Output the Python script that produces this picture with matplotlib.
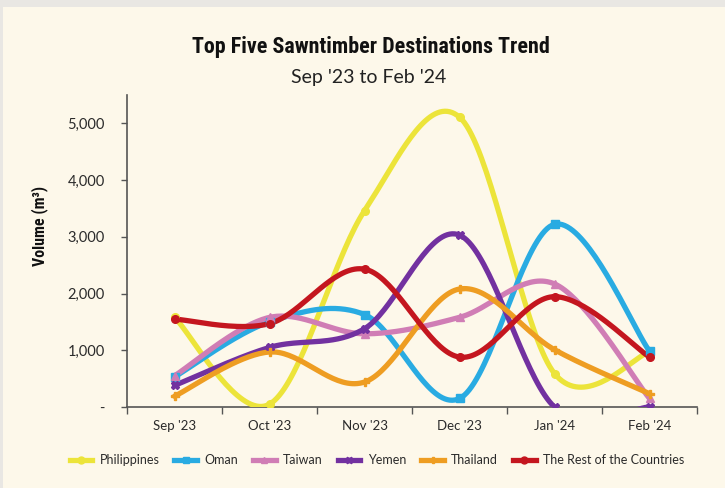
import numpy as np
import matplotlib
matplotlib.use("Agg")
import matplotlib.pyplot as plt
from matplotlib.patches import Rectangle
from matplotlib.lines import Line2D
from matplotlib.ticker import FuncFormatter, FixedLocator

months = ["Sep '23", "Oct '23", "Nov '23", "Dec '23", "Jan '24", "Feb '24"]
philippines = [1580, 50, 3460, 5110, 590, 970]
oman = [530, 1500, 1630, 150, 3220, 985]
taiwan = [550, 1580, 1290, 1580, 2170, 150]
yemen = [380, 1050, 1380, 3030, 0, 0]
thailand = [190, 970, 440, 2080, 1010, 235]
rest = [1550, 1470, 2430, 880, 1945, 880]

series = [
    ("Philippines", philippines, "#ECE43A", "o"),
    ("Oman", oman, "#29ABE2", "s"),
    ("Taiwan", taiwan, "#D07DB5", "^"),
    ("Yemen", yemen, "#7231A0", "X"),
    ("Thailand", thailand, "#EE9D22", "P"),
    ("The Rest of the Countries", rest, "#C4161F", "o"),
]

BG = "#FDF8EA"
TXT = "#2b2b2b"
COND = ["Roboto Condensed", "DejaVu Sans"]
BODY = ["Lato", "DejaVu Sans"]


def smooth(xs, ys, n=40):
    """Excel-style Bezier smoothing through the data points."""
    P = np.column_stack([xs, ys]).astype(float)
    m = len(P)
    out = []
    for i in range(m - 1):
        p0 = P[i]
        p1 = P[i + 1]
        pm = P[i - 1] if i > 0 else P[i]
        pp = P[i + 2] if i + 2 < m else P[i + 1]
        c1 = p0 + (p1 - pm) / 6.0
        c2 = p1 - (pp - p0) / 6.0
        t = np.linspace(0, 1, n)[:, None]
        seg = ((1 - t) ** 3) * p0 + 3 * ((1 - t) ** 2) * t * c1 + 3 * (1 - t) * t ** 2 * c2 + t ** 3 * p1
        out.append(seg if i == 0 else seg[1:])
    out = np.vstack(out)
    return out[:, 0], out[:, 1]


fig = plt.figure(figsize=(7.25, 4.88), dpi=100)
fig.patch.set_facecolor("#E9E7E3")
fig.patches.append(Rectangle((3 / 725, 0), 1, 481 / 488, transform=fig.transFigure,
                             facecolor=BG, edgecolor="none", zorder=-10))

ax = fig.add_axes([127 / 725, 81 / 488, 570 / 725, 312 / 488])
ax.set_facecolor("none")

x = np.arange(len(months))
for name, vals, col, mk in series:
    sx, sy = smooth(x, vals)
    ax.plot(sx, sy, color=col, lw=3.8, solid_capstyle="round", zorder=3)
    ax.plot(x, vals, linestyle="none", marker=mk, color=col, markersize=5.5,
            markeredgecolor=col, zorder=4)

ax.set_xlim(-0.5, len(months) - 0.5)
ax.set_ylim(0, 5500)

ax.set_xticks(x)
ax.set_xticklabels(months)
ax.xaxis.set_minor_locator(FixedLocator(np.arange(-0.5, len(months), 1.0)))
ax.tick_params(axis="x", which="major", length=0, pad=9, labelsize=9.5, labelcolor=TXT)
ax.tick_params(axis="x", which="minor", length=5, width=1, color="#555555", direction="out")

ax.set_yticks(np.arange(0, 5001, 1000))
ax.yaxis.set_major_formatter(FuncFormatter(lambda v, p: "-" if v == 0 else f"{int(v):,}"))
ax.tick_params(axis="y", length=4, width=1, color="#555555", direction="out", pad=12,
               labelsize=10.5, labelcolor=TXT)

for lab in ax.get_xticklabels() + ax.get_yticklabels():
    lab.set_family(BODY)

for s in ["top", "right"]:
    ax.spines[s].set_visible(False)
for s in ["left", "bottom"]:
    ax.spines[s].set_color("#555555")
    ax.spines[s].set_linewidth(1.2)

ax.set_ylabel("Volume (m³)", fontsize=11.5, fontweight="bold", color="#111111", family=COND)
ax.yaxis.set_label_coords(-0.138, 0.58)

fig.text(371 / 725, 1 - 47 / 488, "Top Five Sawntimber Destinations Trend", ha="center", va="center",
         fontsize=15.8, fontweight="bold", color="#111111", family=COND)
fig.text(369 / 725, 1 - 77 / 488, "Sep '23 to Feb '24", ha="center", va="center",
         fontsize=14, color="#222222", family=BODY)

handles = [Line2D([0], [0], color=col, lw=3.8, marker=mk, markersize=5) for _, _, col, mk in series]
labels = [s[0] for s in series]
leg = fig.legend(handles, labels, loc="center", bbox_to_anchor=(377 / 725, 1 - 460 / 488),
                 ncol=6, frameon=False, handlelength=1.8, handletextpad=0.6,
                 columnspacing=1.2, prop={"family": BODY, "size": 9})
for t in leg.get_texts():
    t.set_color(TXT)

fig.savefig("out.png", dpi=100, facecolor=fig.get_facecolor())
